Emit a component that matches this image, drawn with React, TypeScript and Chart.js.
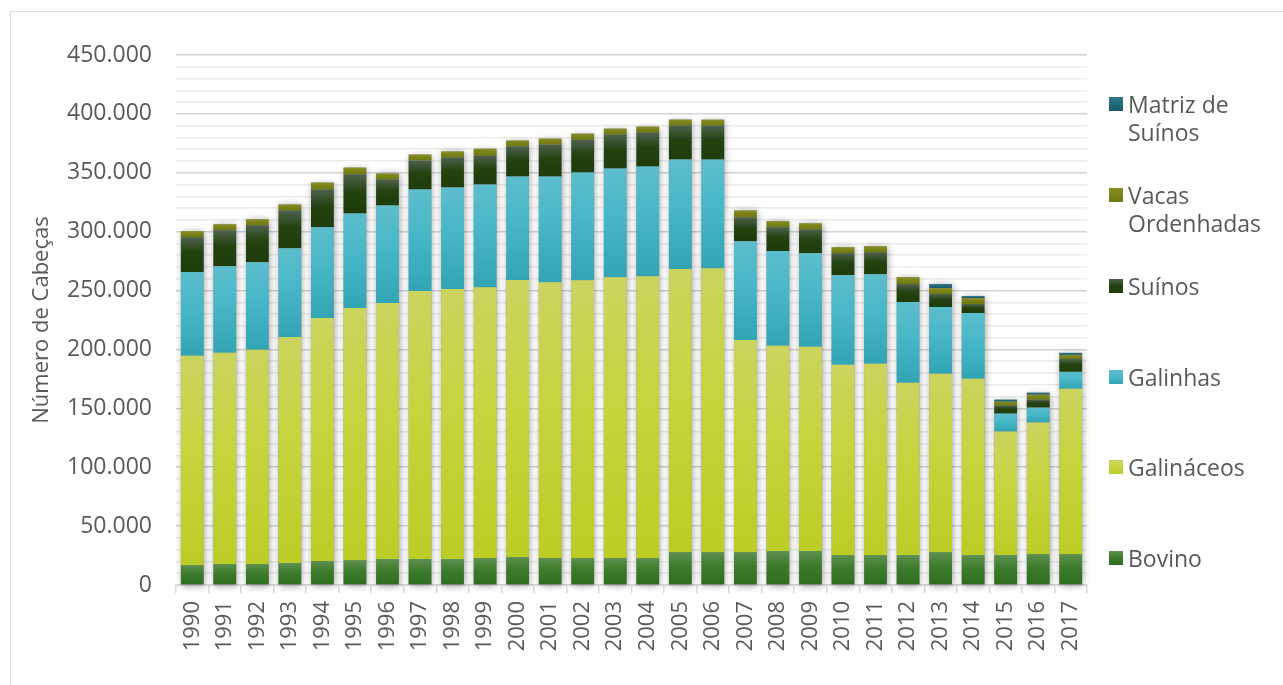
import React, { useEffect, useRef } from 'react';
import { Chart, registerables } from 'chart.js';

Chart.register(...registerables);

const YEARS = ['1990','1991','1992','1993','1994','1995','1996','1997','1998','1999','2000','2001','2002','2003','2004','2005','2006','2007','2008','2009','2010','2011','2012','2013','2014','2015','2016','2017'];

const BOVINO = [16900,17800,17800,18600,20300,21100,22000,22000,22000,22800,23700,22800,22800,22800,22800,27900,27900,27900,28800,28800,25400,25400,25400,27900,25400,25400,26200,26200];
const GALINACEOS = [177700,179300,181900,192000,206400,214000,217400,227600,229300,230100,235200,234300,236000,238600,239400,240300,241100,180200,174300,173400,161600,162400,146400,151400,149700,104900,111700,140400];
const GALINHAS = [71100,73600,74400,75300,77000,80400,82900,86300,86300,87100,88000,89700,91400,92200,93100,93100,92200,83700,80400,79500,76100,76100,68500,56700,55800,15200,12700,14400];
const SUINOS = [29600,30500,31300,32100,32100,33000,22000,24500,25400,24500,25400,27100,27900,28800,28800,28800,28800,20300,20300,20300,18600,18600,15200,11000,7600,6800,6800,11000];
const VACAS = [5100,5100,5100,5100,5900,5900,5100,5100,5100,5900,5100,5100,5100,5100,5100,5100,5100,5900,5100,5100,5100,5100,5900,5100,5100,3400,4200,3400];
const MATRIZ = [0,0,0,0,0,0,0,0,0,0,0,0,0,0,0,0,0,0,0,0,0,0,0,3400,1700,1700,1700,1700];

const SERIES = [BOVINO, GALINACEOS, GALINHAS, SUINOS, VACAS, MATRIZ];
const NAMES = ['Bovino', 'Galináceos', 'Galinhas', 'Suínos', 'Vacas Ordenhadas', 'Matriz de Suínos'];
const LEGEND_LINES = [['Bovino'], ['Galináceos'], ['Galinhas'], ['Suínos'], ['Vacas', 'Ordenhadas'], ['Matriz de', 'Suínos']];

const GRADS: string[][] = [
  ['#5e8f50', '#3c7b2b', '#2f6c20'],
  ['#cbd45f', '#c6d43e', '#bccd26'],
  ['#5dbdcc', '#47b7c7', '#33a4b4'],
  ['#4f614c', '#22420f', '#1e3c0c'],
  ['#8b8d2c', '#7b8318', '#6c7810'],
  ['#2f7888', '#22687a', '#1a5b6c'],
];

const FONT = "'Open Sans', sans-serif";
const TEXT = '#595959';

const fmt = (v: number) => String(v).replace(/\B(?=(\d{3})+(?!\d))/g, '.');

function gradientFor(di: number) {
  return (ctx: any) => {
    const chart = ctx.chart;
    const stops = GRADS[di];
    if (!chart.chartArea || ctx.type !== 'data' || !chart.scales.y) return stops[1];
    const i = ctx.dataIndex;
    let base = 0;
    for (let d = 0; d < di; d++) base += SERIES[d][i];
    const top = base + SERIES[di][i];
    const y = chart.scales.y;
    const y0 = y.getPixelForValue(top);
    const y1 = y.getPixelForValue(base);
    if (!isFinite(y0) || !isFinite(y1) || y1 - y0 < 1) return stops[1];
    const g = chart.ctx.createLinearGradient(0, y0, 0, y1);
    g.addColorStop(0, stops[0]);
    g.addColorStop(0.45, stops[1]);
    g.addColorStop(1, stops[2]);
    return g;
  };
}

const shadowPlugin = {
  id: 'barShadow',
  beforeDatasetsDraw(chart: any) {
    const meta = chart.getDatasetMeta(0);
    const y = chart.scales.y;
    const c = chart.ctx;
    c.save();
    c.shadowColor = 'rgba(0,0,0,0.38)';
    c.shadowBlur = 7;
    c.shadowOffsetX = 1;
    c.shadowOffsetY = 1;
    c.fillStyle = '#999';
    meta.data.forEach((el: any, i: number) => {
      const total = SERIES.reduce((s, arr) => s + arr[i], 0);
      const top = y.getPixelForValue(total);
      const bottom = y.getPixelForValue(0);
      const w = el.width;
      c.fillRect(el.x - w / 2, top, w, bottom - top);
    });
    c.restore();
  },
};

export default function App() {
  const ref = useRef<HTMLCanvasElement | null>(null);

  useEffect(() => {
    if (!ref.current) return;
    const chart = new Chart(ref.current, {
      type: 'bar',
      data: {
        labels: YEARS,
        datasets: SERIES.map((data, di) => ({
          label: NAMES[di],
          data,
          backgroundColor: gradientFor(di),
          borderWidth: 0,
          barPercentage: 0.7,
          categoryPercentage: 1,
        })),
      },
      options: {
        animation: false,
        responsive: false,
        maintainAspectRatio: false,
        devicePixelRatio: 1,
        layout: { padding: { top: 44, right: 23, left: 0, bottom: 0 } },
        plugins: {
          legend: { display: false },
          tooltip: { enabled: false },
        },
        scales: {
          x: {
            stacked: true,
            offset: true,
            grid: {
              display: true,
              drawOnChartArea: false,
              drawTicks: true,
              tickLength: 8,
              color: '#d9d9d9',
              lineWidth: 1.5,
              offset: true,
            },
            border: { display: true, color: '#d9d9d9', width: 1.5 },
            ticks: {
              autoSkip: false,
              maxRotation: 90,
              minRotation: 90,
              padding: 8,
              color: TEXT,
              font: { family: FONT, size: 22 },
            },
            afterFit: (s: any) => { s.height = 100; },
          },
          y: {
            stacked: true,
            min: 0,
            max: 450000,
            grid: {
              drawTicks: false,
              color: (ctx: any) => (ctx.tick && ctx.tick.value % 50000 === 0 ? '#d3d3d3' : '#ececec'),
              lineWidth: 1.5,
            },
            border: { display: false },
            ticks: {
              stepSize: 10000,
              autoSkip: false,
              padding: 24,
              color: TEXT,
              font: { family: FONT, size: 23 },
              callback: (v: any) => (Number(v) % 50000 === 0 ? fmt(Number(v)) : ''),
            },
            title: {
              display: true,
              text: 'Número de Cabeças',
              color: TEXT,
              font: { family: FONT, size: 22 },
              padding: { top: 19, bottom: 0 },
            },
            afterFit: (s: any) => { s.width = 166; },
          },
        },
      },
      plugins: [shadowPlugin],
    } as any);
    return () => chart.destroy();
  }, []);

  const legendTops = [97, 188, 279, 370, 460, 551];
  const order = [5, 4, 3, 2, 1, 0];

  return (
    <div style={{ position: 'absolute', left: 0, top: 0, width: 1283, height: 685, overflow: 'hidden', background: '#fff' }}>
      <div style={{ position: 'absolute', left: 10, top: 11, width: 1300, height: 700, border: '1.5px solid #dedede', boxSizing: 'border-box' }} />
      <canvas ref={ref} width={1100} height={674} style={{ position: 'absolute', left: 10, top: 11, width: 1100, height: 674 }} />
      {order.map((di, k) => (
        <div key={di} style={{ position: 'absolute', left: 1109, top: legendTops[k] - 7, display: 'flex', alignItems: 'flex-start', fontFamily: FONT, fontSize: 23, color: TEXT, lineHeight: '28px' }}>
          <div style={{ width: 14, height: 14, marginTop: 7, marginRight: 5, background: `linear-gradient(${GRADS[di][0]}, ${GRADS[di][1]}, ${GRADS[di][2]})`, flex: 'none' }} />
          <div>
            {LEGEND_LINES[di].map((t, j) => (
              <div key={j} style={{ whiteSpace: 'nowrap' }}>{t}</div>
            ))}
          </div>
        </div>
      ))}
    </div>
  );
}
